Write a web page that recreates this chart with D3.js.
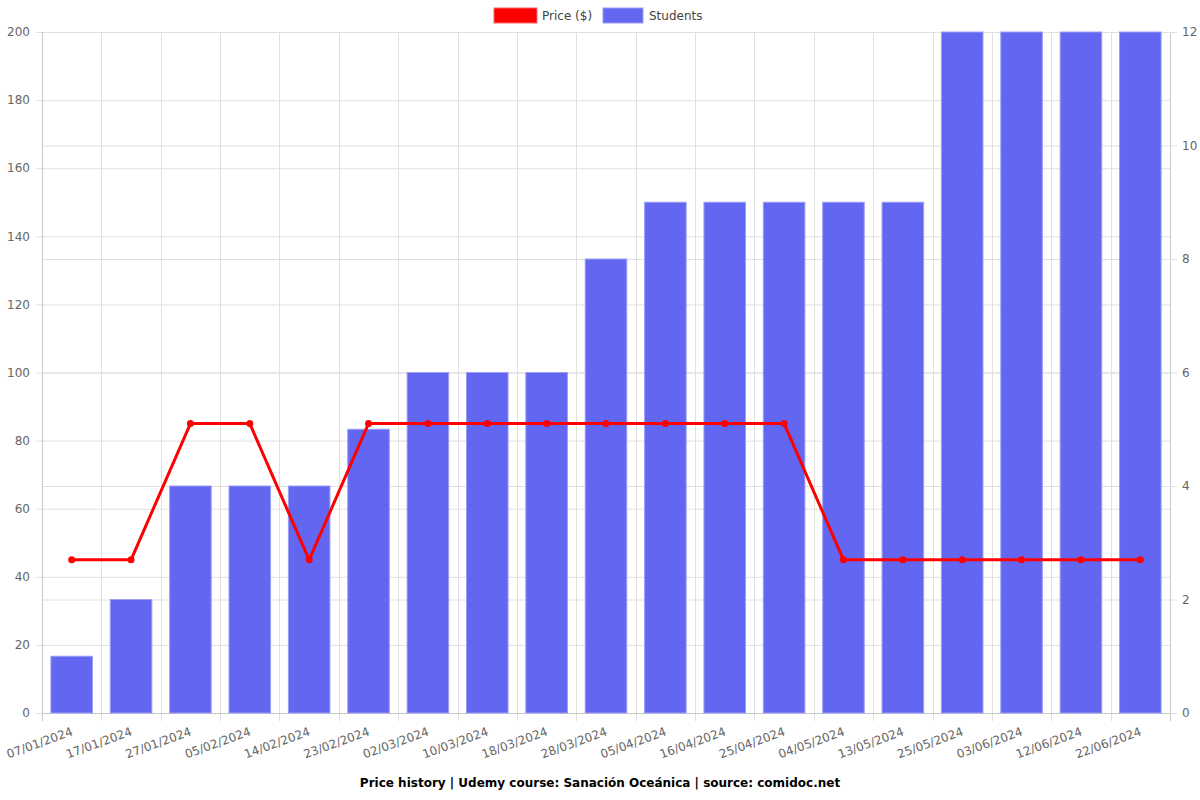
<!DOCTYPE html>
<html><head><meta charset="utf-8">
<script src="https://cdn.jsdelivr.net/npm/d3@7"></script>
<style>body{margin:0;background:#fff;}svg{font-family:"DejaVu Sans",sans-serif;}</style>
</head><body><svg id="c" width="1200" height="800"></svg>
<script>
const dates = ["07/01/2024","17/01/2024","27/01/2024","05/02/2024","14/02/2024","23/02/2024","02/03/2024","10/03/2024","18/03/2024","28/03/2024","05/04/2024","16/04/2024","25/04/2024","04/05/2024","13/05/2024","25/05/2024","03/06/2024","12/06/2024","22/06/2024"];
const prices = [44.99,44.99,84.99,84.99,44.99,84.99,84.99,84.99,84.99,84.99,84.99,84.99,84.99,44.99,44.99,44.99,44.99,44.99,44.99];
const students = [1,2,4,4,4,5,6,6,6,8,9,9,9,9,9,12,12,12,12];
const leftTicks = [0,20,40,60,80,100,120,140,160,180,200];
const rightTicks = [0,2,4,6,8,10,12];

const svg = d3.select("#c");
const L=42,R=1170,T=32,B=713;
const x = d3.scaleBand().domain(dates).range([L,R]).paddingInner(0.3).paddingOuter(0.15);
const xb = d3.scaleBand().domain(dates).range([L,R]);
const yL = d3.scaleLinear().domain([0,200]).range([B,T]);
const yR = d3.scaleLinear().domain([0,12]).range([B,T]);
const grid = "#e0e0e0";

// grids
const g = svg.append("g");
g.selectAll(".hl").data(leftTicks).join("line").attr("x1",L).attr("x2",R)
 .attr("y1",d=>yL(d)+0.5).attr("y2",d=>yL(d)+0.5).attr("stroke",grid);
g.selectAll(".hr").data(rightTicks).join("line").attr("x1",L).attr("x2",R)
 .attr("y1",d=>yR(d)+0.5).attr("y2",d=>yR(d)+0.5).attr("stroke",grid);
const vx = dates.map(d=>xb(d)).concat([R]);
g.selectAll(".v").data(vx).join("line").attr("x1",d=>Math.round(d)+0.5).attr("x2",d=>Math.round(d)+0.5)
 .attr("y1",T).attr("y2",B+8).attr("stroke",grid);

// axes lines
svg.append("line").attr("x1",L+0.5).attr("x2",L+0.5).attr("y1",T).attr("y2",B+8).attr("stroke","#c8c8c8");
svg.append("line").attr("x1",R+0.5).attr("x2",R+0.5).attr("y1",T).attr("y2",B+8).attr("stroke","#c8c8c8");
svg.append("line").attr("x1",L-6).attr("x2",R+6).attr("y1",B+0.5).attr("y2",B+0.5).attr("stroke","#c8c8c8");
// tick marks
svg.selectAll(".tl").data(leftTicks).join("line").attr("x1",L-6).attr("x2",L).attr("y1",d=>yL(d)+0.5).attr("y2",d=>yL(d)+0.5).attr("stroke",grid);
svg.selectAll(".tr").data(rightTicks).join("line").attr("x1",R).attr("x2",R+7).attr("y1",d=>yR(d)+0.5).attr("y2",d=>yR(d)+0.5).attr("stroke",grid);

// bars
svg.append("g").selectAll("rect").data(dates).join("rect")
 .attr("x",(d)=>x(d)).attr("width",x.bandwidth())
 .attr("y",(d,i)=>yR(students[i])).attr("height",(d,i)=>B-yR(students[i]))
 .attr("fill","#6366f1").attr("stroke","#9b9df5").attr("stroke-width",1);

// line
const cx = d=>xb(d)+xb.bandwidth()/2;
svg.append("path").datum(dates).attr("fill","none").attr("stroke","#ff0000").attr("stroke-width",3)
 .attr("stroke-linejoin","round")
 .attr("d",d3.line().x(d=>cx(d)).y((d,i)=>yL(prices[i])));
svg.append("g").selectAll("circle").data(dates).join("circle")
 .attr("cx",d=>cx(d)).attr("cy",(d,i)=>yL(prices[i])).attr("r",3.5).attr("fill","#ff0000");

// tick labels
svg.selectAll(".ll").data(leftTicks).join("text").attr("x",L-12).attr("y",d=>yL(d)).attr("dy","0.35em")
 .attr("text-anchor","end").attr("font-size",12).attr("fill","#666").text(d=>d);
svg.selectAll(".rl").data(rightTicks).join("text").attr("x",R+12).attr("y",d=>yR(d)).attr("dy","0.35em")
 .attr("text-anchor","start").attr("font-size",12).attr("fill","#666").text(d=>d);
svg.selectAll(".xl").data(dates).join("text")
 .attr("transform",d=>`translate(${cx(d)-1},${B+14}) rotate(-20)`)
 .attr("text-anchor","end").attr("dy","0.7em").attr("font-size",12).attr("fill","#666").text(d=>d);

// legend
const lg = svg.append("g");
lg.append("rect").attr("x",494).attr("y",8).attr("width",43).attr("height",15).attr("fill","#ff0000").attr("stroke","#ff6666");
lg.append("text").attr("x",542).attr("y",16).attr("dy","0.35em").attr("font-size",12).attr("fill","#444").text("Price ($)");
lg.append("rect").attr("x",603).attr("y",8).attr("width",40).attr("height",15).attr("fill","#6366f1").attr("stroke","#9b9df5");
lg.append("text").attr("x",649).attr("y",16).attr("dy","0.35em").attr("font-size",12).attr("fill","#444").text("Students");

// title
svg.append("text").attr("x",600).attr("y",783).attr("dy","0.35em").attr("text-anchor","middle")
 .attr("font-size",12).attr("font-weight","bold").attr("fill","#000")
 .text("Price history | Udemy course: Sanación Oceánica | source: comidoc.net");
</script></body></html>
